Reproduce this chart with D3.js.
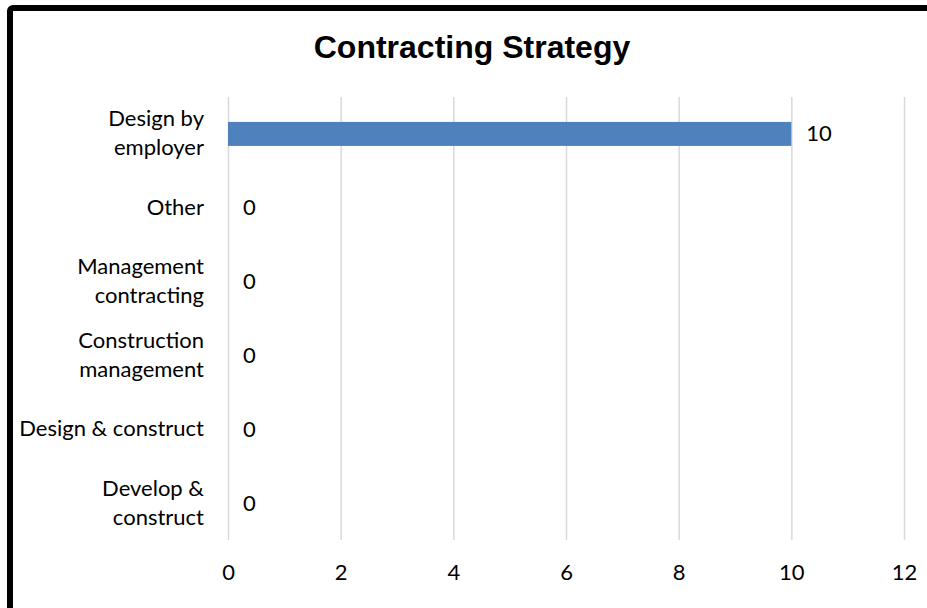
<!DOCTYPE html>
<html>
<head>
<meta charset="utf-8">
<script src="https://cdn.jsdelivr.net/npm/d3@7"></script>
<style>
  html, body { margin: 0; padding: 0; background: #fff; }
  svg { display: block; }
</style>
</head>
<body>
<svg id="canvas" width="927" height="608"></svg>
<script>
// chart data
let categories = [
  'Design by\nemployer',
  'Other',
  'Management\ncontracting',
  'Construction\nmanagement',
  'Design & construct',
  'Develop &\nconstruct'
];
let values = [10, 0, 0, 0, 0, 0];
let xTicks = [0, 2, 4, 6, 8, 10, 12];
let title = 'Contracting Strategy';

let canvas = d3.select('#canvas');
let labelFont = 'Lato, "Open Sans", sans-serif';
let labelSize = 22;

// frame (only top and left edges show, the rest is cropped)
canvas.append('rect')
  .attr('x', 10).attr('y', 8)
  .attr('width', 1000).attr('height', 700)
  .attr('rx', 3)
  .attr('fill', 'none')
  .attr('stroke', '#000')
  .attr('stroke-width', 6);

canvas.append('text')
  .attr('x', 472)
  .attr('y', 58)
  .attr('text-anchor', 'middle')
  .attr('font-family', '"Liberation Sans", Arial, sans-serif')
  .attr('font-weight', 'bold')
  .attr('font-size', 32)
  .text(title);

let xScale = d3.scaleLinear().domain([0, 12]).range([228, 904]);
let yScale = d3.scaleBand()
  .domain(categories)
  .range([97, 540])
  .paddingInner(0.675)
  .paddingOuter(0.3375);

// vertical grid lines
canvas.append('g')
  .attr('transform', 'translate(0,540)')
  .call(d3.axisBottom(xScale).tickValues(xTicks).tickSize(-443).tickFormat(''))
  .call((g) => g.select('.domain').remove())
  .call((g) => g.selectAll('line').attr('stroke', '#d9d9d9').attr('stroke-width', 1.5));

// x tick labels
canvas.append('g')
  .attr('transform', 'translate(0,540)')
  .call(d3.axisBottom(xScale).tickValues(xTicks).tickSize(0).tickPadding(0))
  .call((g) => g.select('.domain').remove())
  .call((g) => g.selectAll('text')
    .attr('y', 40)
    .attr('dy', 0)
    .attr('fill', '#000')
    .attr('font-family', labelFont)
    .attr('font-size', labelSize));

// bars
canvas.selectAll('rect.bar')
  .data(values)
  .enter()
  .append('rect')
  .attr('class', 'bar')
  .attr('x', xScale(0))
  .attr('y', (d, i) => yScale(categories[i]))
  .attr('width', (d) => xScale(d) - xScale(0))
  .attr('height', yScale.bandwidth())
  .attr('fill', '#4f81bd');

// value labels
canvas.selectAll('text.value')
  .data(values)
  .enter()
  .append('text')
  .attr('class', 'value')
  .attr('x', (d) => xScale(d) + 15)
  .attr('y', (d, i) => yScale(categories[i]) + yScale.bandwidth() / 2 + 7.5)
  .attr('font-family', labelFont)
  .attr('font-size', labelSize)
  .text((d) => d);

// category labels, wrapped like the original
categories.forEach((cat) => {
  let lines = cat.split('\n');
  let mid = yScale(cat) + yScale.bandwidth() / 2;
  let t = canvas.append('text')
    .attr('text-anchor', 'end')
    .attr('font-family', labelFont)
    .attr('font-size', labelSize);
  lines.forEach((line, i) => {
    t.append('tspan')
      .attr('x', 204)
      .attr('y', mid + 7 + (i - (lines.length - 1) / 2) * 29)
      .text(line);
  });
});
</script>
</body>
</html>
